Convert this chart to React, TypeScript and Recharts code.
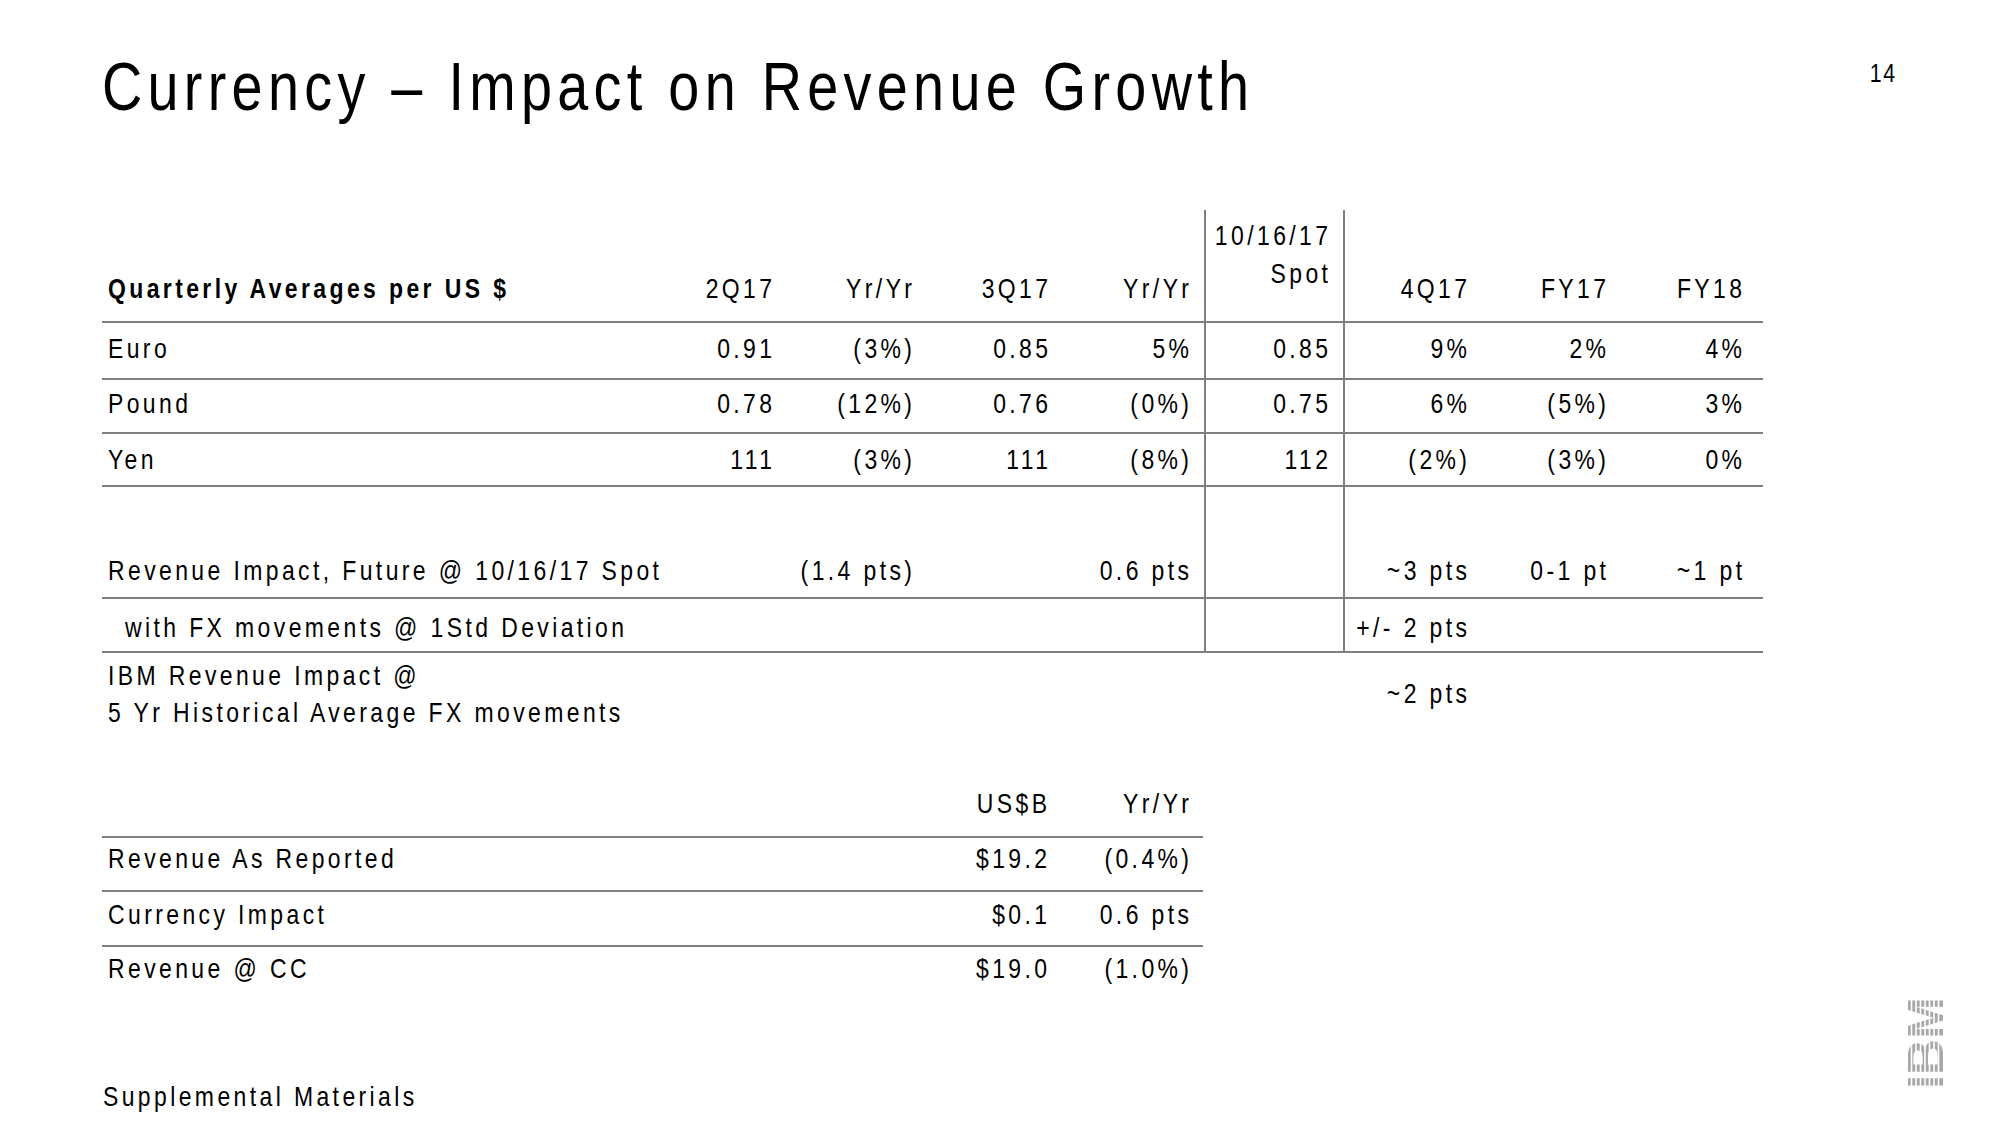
import { Surface, Text } from "recharts";

// ---- data ----
const title = "Currency – Impact on Revenue Growth";
const pageNo = "14";
const footer = "Supplemental Materials";

const headerLabel = "Quarterly Averages per US $";
const columns = ["2Q17", "Yr/Yr", "3Q17", "Yr/Yr", "", "4Q17", "FY17", "FY18"];
const spotHeader = ["10/16/17", "Spot"];

const currencies = ["Euro", "Pound", "Yen"];
const rate2Q17 = ["0.91", "0.78", "111"];
const yy2Q17 = ["(3%)", "(12%)", "(3%)"];
const rate3Q17 = ["0.85", "0.76", "111"];
const yy3Q17 = ["5%", "(0%)", "(8%)"];
const spotRate = ["0.85", "0.75", "112"];
const impact4Q17 = ["9%", "6%", "(2%)"];
const impactFY17 = ["2%", "(5%)", "(3%)"];
const impactFY18 = ["4%", "3%", "0%"];

const futureLabel = "Revenue Impact, Future @ 10/16/17 Spot";
const futureImpact = ["", "(1.4 pts)", "", "0.6 pts", "", "~3 pts", "0-1 pt", "~1 pt"];
const stdLabel = "with FX movements @ 1Std Deviation";
const stdImpact = "+/- 2 pts";
const histLabel = ["IBM Revenue Impact @", "5 Yr Historical Average FX movements"];
const histImpact = "~2 pts";

const summaryColumns = ["US$B", "Yr/Yr"];
const summaryLabels = ["Revenue As Reported", "Currency Impact", "Revenue @ CC"];
const summaryUSD = ["$19.2", "$0.1", "$19.0"];
const summaryYY = ["(0.4%)", "0.6 pts", "(1.0%)"];

// ---- layout ----
const W = 2000;
const H = 1125;
const FONT = "'Liberation Sans', Arial, sans-serif";
const SX = 0.82; // no narrow face installed, so squeeze the regular one
const FS = 28;
const LS = 3.4;
const LINE = "#808080";
const colRight = [772, 912, 1048, 1189, 1328, 1467, 1606, 1742];
const rowBase = [358, 413, 469];
const tableLeft = 102;
const tableRight = 1763;
const hLines = [322, 379, 433, 486, 598, 652];
const vLines = [1205, 1344];
const sumRight = [1047, 1189];
const sumBase = [868, 924, 978];
const sumLines = [837, 891, 946];

function T({ x, y, children, anchor = "start", size = FS, bold = false, ls = LS, fill = "#000" }: {
  x: number; y: number; children: string; anchor?: "start" | "end" | "middle";
  size?: number; bold?: boolean; ls?: number; fill?: string;
}) {
  const lsLocal = ls / SX;
  // letter-spacing trails the last glyph, so nudge end-anchored text
  const dx = anchor === "end" ? lsLocal : 0;
  return (
    <g transform={`translate(${x},${y}) scale(${SX},1)`}>
      <Text x={dx} y={0} textAnchor={anchor} verticalAnchor="end" fill={fill}
        style={{ fontFamily: FONT, fontSize: size, fontWeight: bold ? 700 : 400, letterSpacing: lsLocal }}>
        {children}
      </Text>
    </g>
  );
}

export default function App() {
  const body = [rate2Q17, yy2Q17, rate3Q17, yy3Q17, spotRate, impact4Q17, impactFY17, impactFY18];
  return (
    <div style={{ position: "absolute", left: 0, top: 0, width: W, height: H, background: "#fff" }}>
      <Surface width={W} height={H}>
        <T x={102} y={110} size={68} ls={5.3}>{title}</T>
        <T x={1895} y={82} size={26} ls={1.5} anchor="end">{pageNo}</T>

        {/* grid lines */}
        {hLines.map((y) => (
          <line key={"h" + y} x1={tableLeft} x2={tableRight} y1={y} y2={y} stroke={LINE} strokeWidth={2} />
        ))}
        {vLines.map((x) => (
          <line key={"v" + x} x1={x} x2={x} y1={210} y2={hLines[5]} stroke={LINE} strokeWidth={2} />
        ))}

        {/* header */}
        <T x={108} y={298} bold>{headerLabel}</T>
        {columns.map((c, i) => c ? <T key={"c" + i} x={colRight[i]} y={298} anchor="end">{c}</T> : null)}
        <T x={colRight[4]} y={245} anchor="end">{spotHeader[0]}</T>
        <T x={colRight[4]} y={283} anchor="end">{spotHeader[1]}</T>

        {/* currency rows */}
        {currencies.map((cur, r) => (
          <g key={cur}>
            <T x={108} y={rowBase[r]}>{cur}</T>
            {body.map((col, c) => (
              <T key={c} x={colRight[c]} y={rowBase[r]} anchor="end">{col[r]}</T>
            ))}
          </g>
        ))}

        {/* impact rows */}
        <T x={108} y={580}>{futureLabel}</T>
        {futureImpact.map((v, i) => v ? <T key={"f" + i} x={colRight[i]} y={580} anchor="end">{v}</T> : null)}
        <T x={125} y={637}>{stdLabel}</T>
        <T x={colRight[5]} y={637} anchor="end">{stdImpact}</T>
        <T x={108} y={685}>{histLabel[0]}</T>
        <T x={108} y={722}>{histLabel[1]}</T>
        <T x={colRight[5]} y={703} anchor="end">{histImpact}</T>

        {/* summary table */}
        {sumLines.map((y) => (
          <line key={"s" + y} x1={tableLeft} x2={1203} y1={y} y2={y} stroke={LINE} strokeWidth={2} />
        ))}
        {summaryColumns.map((c, i) => <T key={c} x={sumRight[i]} y={813} anchor="end">{c}</T>)}
        {summaryLabels.map((l, r) => (
          <g key={l}>
            <T x={108} y={sumBase[r]}>{l}</T>
            <T x={sumRight[0]} y={sumBase[r]} anchor="end">{summaryUSD[r]}</T>
            <T x={sumRight[1]} y={sumBase[r]} anchor="end">{summaryYY[r]}</T>
          </g>
        ))}

        <T x={103} y={1106}>{footer}</T>

        {/* rotated logo */}
        <g transform="translate(1943,1043) rotate(-90)">
          <text x={0} y={0} textAnchor="middle" fill="#a8a8a8"
            style={{ fontFamily: "'Liberation Sans', sans-serif", fontSize: 50, fontWeight: 700 }}>IBM</text>
        </g>
        {[1, 2, 3, 4, 5, 6, 7].map((i) => (
          <line key={"lg" + i} x1={1907 + i * 4.5} x2={1907 + i * 4.5} y1={990} y2={1096} stroke="#fff" strokeWidth={1.6} />
        ))}
      </Surface>
    </div>
  );
}
